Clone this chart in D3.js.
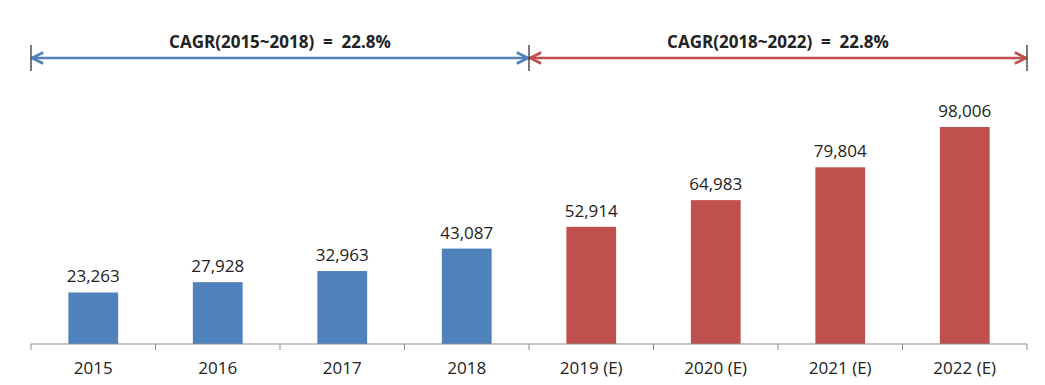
<!DOCTYPE html>
<html>
<head>
<meta charset="utf-8">
<script src="https://cdn.jsdelivr.net/npm/d3@7"></script>
<style>
  body { margin: 0; background: #fff; }
  text { font-family: "Open Sans", "Noto Sans", sans-serif; white-space: pre; }
</style>
</head>
<body>
<svg id="svg"></svg>
<script>
// data
const years = ["2015", "2016", "2017", "2018", "2019 (E)", "2020 (E)", "2021 (E)", "2022 (E)"];
const sales = [23263, 27928, 32963, 43087, 52914, 64983, 79804, 98006];
const estimated = [false, false, false, false, true, true, true, true];
const cagrLabels = ["CAGR(2015~2018)  =  22.8%", "CAGR(2018~2022)  =  22.8%"];
const cagrSpans = [["2015", "2018"], ["2019 (E)", "2022 (E)"]];

var width = 1045;
var height = 385;
var margin = {top: 20, right: 18, bottom: 41, left: 31};
var blue = "#4f81bd", red = "#c0504d";

var svg = d3.select("#svg")
  .attr("width", width)
  .attr("height", height);

var x = d3.scaleBand()
  .range([margin.left, width - margin.right])
  .domain(years);

var y = d3.scaleLinear()
  .range([height - margin.bottom, 122.6])
  .domain([0, 100000]);

var barW = x.bandwidth() * 0.4;

// bars
svg.append("g")
  .selectAll("rect")
  .data(sales)
  .join("rect")
    .attr("x", (d, i) => x(years[i]) + (x.bandwidth() - barW) / 2)
    .attr("y", d => y(d))
    .attr("width", barW)
    .attr("height", d => y(0) - y(d))
    .attr("fill", (d, i) => estimated[i] ? red : blue);

// value labels
svg.append("g")
  .selectAll("text")
  .data(sales)
  .join("text")
    .attr("x", (d, i) => x(years[i]) + x.bandwidth() / 2)
    .attr("y", d => y(d) - 10)
    .attr("text-anchor", "middle")
    .attr("font-size", 17)
    .attr("fill", "#222")
    .text(d3.format(","));

// x axis: ticks at band edges
var axis = svg.append("g")
  .attr("transform", "translate(0," + y(0) + ")");
axis.append("line")
  .attr("x1", margin.left).attr("x2", width - margin.right)
  .attr("stroke", "#8c8c8c").attr("stroke-width", 1.2);
var edges = years.map(d => x(d)).concat([x(years[years.length - 1]) + x.bandwidth()]);
axis.selectAll(".tk")
  .data(edges)
  .join("line")
    .attr("class", "tk")
    .attr("x1", d => d).attr("x2", d => d)
    .attr("y1", 0).attr("y2", 6)
    .attr("stroke", "#8c8c8c");
axis.selectAll(".lbl")
  .data(years)
  .join("text")
    .attr("class", "lbl")
    .attr("x", d => x(d) + x.bandwidth() / 2)
    .attr("y", 30)
    .attr("text-anchor", "middle")
    .attr("font-size", 17)
    .attr("fill", "#222")
    .text(d => d);

// CAGR arrows across the top
var arrowY = 58;
var defs = svg.append("defs");
[["b", blue], ["r", red]].forEach(function(m) {
  defs.append("marker")
    .attr("id", "head-" + m[0])
    .attr("viewBox", "0 0 10 10")
    .attr("refX", 9).attr("refY", 5)
    .attr("markerWidth", 14).attr("markerHeight", 14)
    .attr("markerUnits", "userSpaceOnUse")
    .attr("orient", "auto-start-reverse")
    .append("path")
      .attr("d", "M1,1 L9,5 L1,9")
      .attr("fill", "none")
      .attr("stroke", m[1])
      .attr("stroke-width", 2);
});

cagrSpans.forEach(function(s, i) {
  var x0 = x(s[0]);
  var x1 = x(s[1]) + x.bandwidth();
  var key = i === 0 ? "b" : "r";
  svg.append("line")
    .attr("x1", x0 + 1).attr("x2", x1 - 1)
    .attr("y1", arrowY).attr("y2", arrowY)
    .attr("stroke", i === 0 ? blue : red).attr("stroke-width", 2.5)
    .attr("marker-start", "url(#head-" + key + ")")
    .attr("marker-end", "url(#head-" + key + ")");
  svg.append("text")
    .attr("x", (x0 + x1) / 2)
    .attr("y", 48)
    .attr("text-anchor", "middle")
    .attr("font-size", 17)
    .attr("font-weight", "bold")
    .attr("fill", "#222")
    .text(cagrLabels[i]);
});

// vertical end markers
svg.selectAll(".vbar")
  .data([x("2015"), x("2018") + x.bandwidth(), x("2022 (E)") + x.bandwidth()])
  .join("line")
    .attr("class", "vbar")
    .attr("x1", d => d).attr("x2", d => d)
    .attr("y1", arrowY - 13).attr("y2", arrowY + 13)
    .attr("stroke", "#333").attr("stroke-width", 1.3);
</script>
</body>
</html>
